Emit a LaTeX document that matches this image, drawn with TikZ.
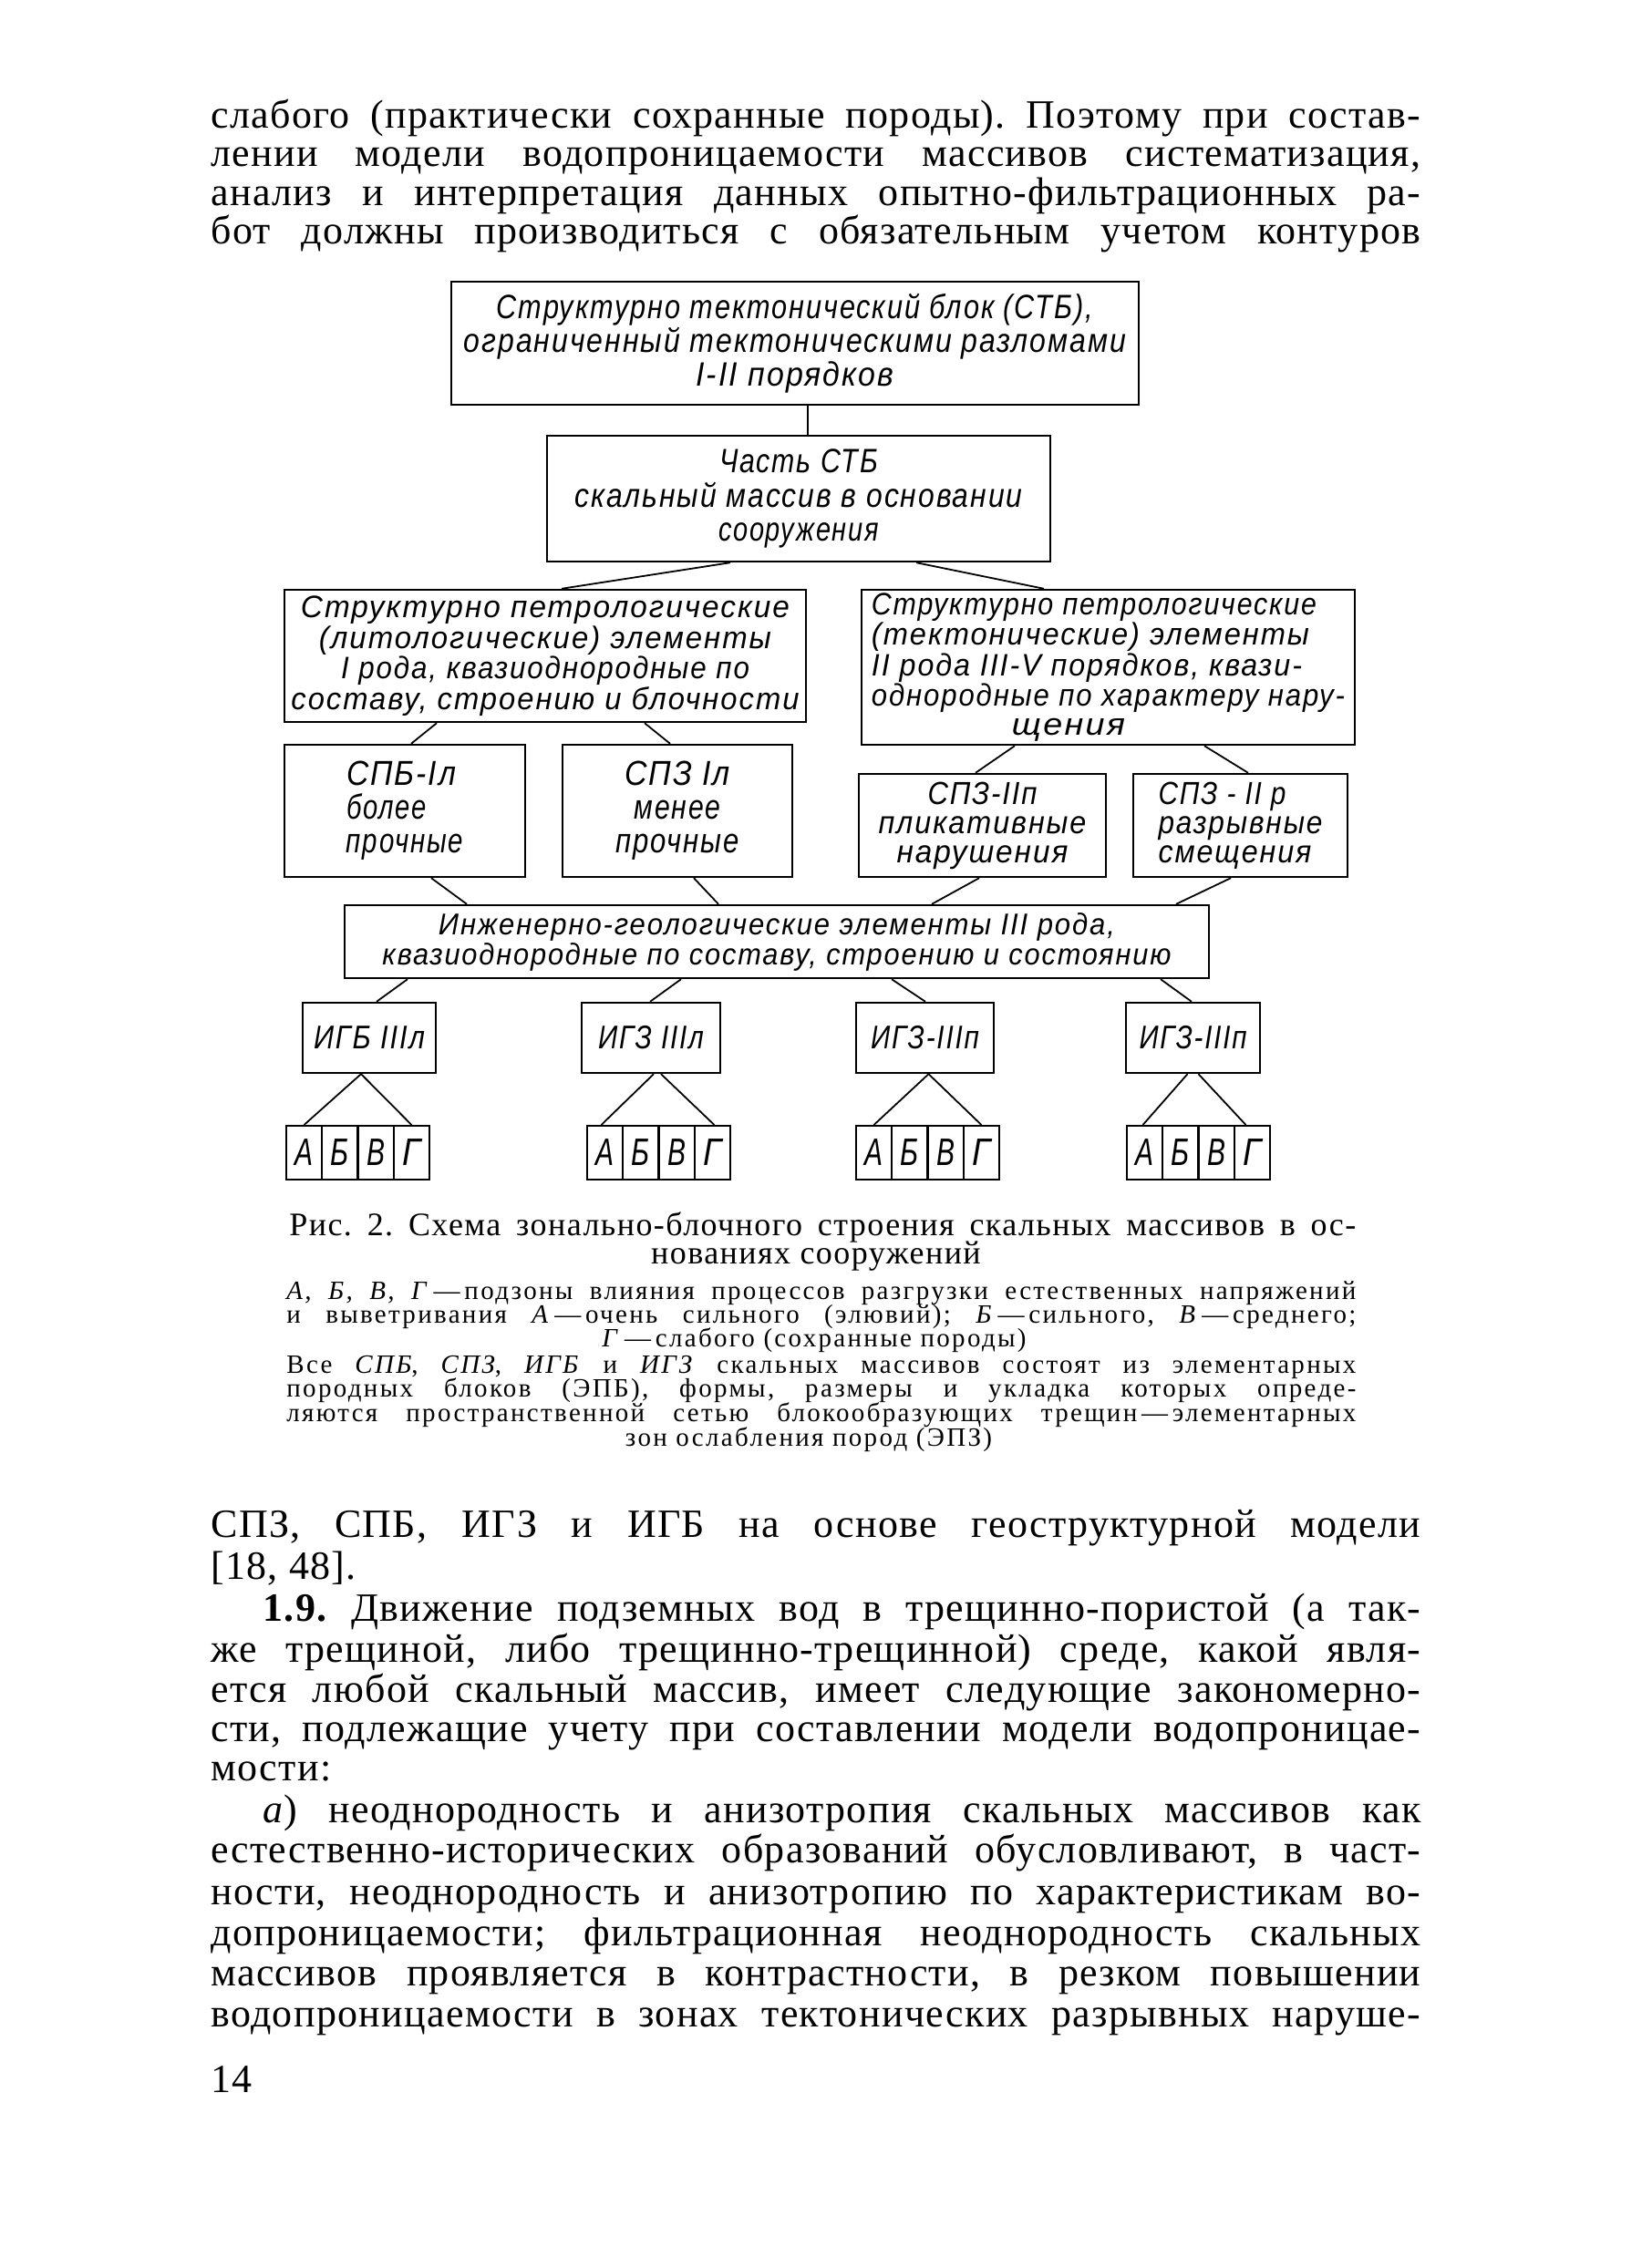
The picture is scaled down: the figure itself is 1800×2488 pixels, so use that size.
\documentclass[tikz,border=0pt]{standalone}
\usepackage{fontspec}
\usepackage{graphicx}
\setmainfont{Liberation Serif}[LetterSpace=3]
\newfontfamily\capf{Liberation Serif}[LetterSpace=4]
\newfontfamily\notef{Liberation Serif}[LetterSpace=8]
\newfontfamily\gost{Liberation Sans}[LetterSpace=6]
\frenchspacing
\newdimen\pxu \pxu=0.5pt
\newsavebox\fitbox
\newcommand\fw[2]{\sbox\fitbox{#2}\resizebox{#1\pxu}{\height}{\usebox\fitbox}}
\newcommand\jl[2]{\sbox\fitbox{#2}\ifdim\wd\fitbox>#1\pxu\relax\resizebox{#1\pxu}{\height}{\usebox\fitbox}\else\makebox[#1\pxu][s]{#2}\fi}
\newcommand\bodysize{\fontsize{22}{26}\selectfont}
\newcommand\capsz{\capf\fontsize{18}{21}\selectfont}
\newcommand\notesz{\notef\fontsize{14.5}{17}\selectfont}
\tikzset{
  box/.style={draw, line width=1.2pt, inner sep=0pt, align=center},
  conn/.style={line width=0.9pt},
  bl/.style={anchor=base west, inner sep=0pt, font=\bodysize},
  bc/.style={anchor=base, inner sep=0pt},
  gA/.style={font=\gost\itshape\fontsize{18.5}{18.5}\selectfont},
  gB/.style={font=\gost\itshape\fontsize{17}{16.75}\selectfont},
  gC/.style={font=\gost\itshape\fontsize{19}{18.5}\selectfont},
  gD/.style={font=\gost\itshape\fontsize{17.5}{16}\selectfont},
  gE/.style={font=\gost\itshape\fontsize{16.5}{16.5}\selectfont},
  gF/.style={font=\gost\itshape\fontsize{18}{16}\selectfont},
  cell/.style={draw, line width=1.1pt, inner sep=0pt, minimum width=19.6pt, minimum height=29.5pt, font=\gost\itshape\fontsize{21}{22}\selectfont}
}
\begin{document}
\begin{tikzpicture}[x=0.5pt,y=-0.5pt]
\fill[white] (0,0) rectangle (1800,2488);
\useasboundingbox (0,0) rectangle (1800,2488);

% ---- top text
\node[bl] (t1) at (231,141) {\jl{1327}{слабого (практически сохранные породы). Поэтому при состав-}};
\node[bl] (t2) at (231,183) {\jl{1327}{лении модели водопроницаемости массивов систематизация,}};
\node[bl] (t3) at (231,226) {\jl{1327}{анализ и интерпретация данных опытно-фильтрационных ра-}};
\node[bl] (t4) at (231,268) {\jl{1327}{бот должны производиться с обязательным учетом контуров}};

% ---- diagram boxes
\node[box, gA, minimum width=377pt, minimum height=67.5pt] (b1) at (872,376.5)
  {\fw{654}{Структурно тектонический блок (СТБ),}\\\fw{726}{ограниченный тектоническими разломами}\\\fw{217}{I-II порядков}};
\node[box, gA, minimum width=276pt, minimum height=69pt] (b2) at (876,547)
  {\fw{174}{Часть СТБ}\\[0.25pt]\fw{491}{скальный массив в основании}\\[0.25pt]\fw{176}{сооружения}};
\node[box, gB, minimum width=286pt, minimum height=72.5pt] (b3) at (598,719.5)
  {\fw{536}{Структурно петрологические}\\\fw{496}{(литологические) элементы}\\\fw{448}{I рода, квазиоднородные по}\\\fw{557}{составу, строению и блочности}};
\node[box, gB, align=left, minimum width=270.5pt, minimum height=85pt] (b4) at (1215.5,732)
  {\fw{488}{Структурно петрологические}\\\fw{480}{(тектонические) элементы}\\\fw{472}{II рода III-V порядков, квази-}\\\fw{519}{однородные по характеру нару-}\\[-1pt]\hspace*{77pt}\fw{124}{щения}};

\node[box, gC, align=left, minimum width=132pt, minimum height=72.5pt] (s1) at (444,889.5)
  {\fw{120}{СПБ-Iл}\\\fw{88}{более}\\\fw{128}{прочные}};
\node[box, gC, minimum width=126pt, minimum height=72.5pt] (s2) at (743,889.5)
  {\fw{116}{СПЗ Iл}\\\fw{95}{менее}\\\fw{135}{прочные}};
\node[box, gD, minimum width=135.5pt, minimum height=56.5pt] (s3) at (1077.5,905.5)
  {\fw{120}{СПЗ-IIп}\\\fw{228}{пликативные}\\\fw{188}{нарушения}};
\node[box, gD, align=left, minimum width=117.5pt, minimum height=56.5pt] (s4) at (1360.5,905.5)
  {\fw{140}{СПЗ - II р}\\\fw{180}{разрывные}\\\fw{168}{смещения}};

\node[box, gE, minimum width=474pt, minimum height=40pt] (ig) at (852,1033)
  {\fw{742}{Инженерно-геологические элементы III рода,}\\\fw{865}{квазиоднородные по составу, строению и состоянию}};

\node[box, gF, minimum width=73pt, minimum height=38.5pt] (g1) at (405,1138.5) {\fw{122}{ИГБ IIIл}};
\node[box, gF, minimum width=76pt, minimum height=38.5pt] (g2) at (714,1138.5) {\fw{116}{ИГЗ IIIл}};
\node[box, gF, minimum width=75.5pt, minimum height=38.5pt] (g3) at (1014.5,1138.5) {\fw{119}{ИГЗ-IIIп}};
\node[box, gF, minimum width=73.5pt, minimum height=38.5pt] (g4) at (1308.5,1138.5) {\fw{118}{ИГЗ-IIIп}};

\foreach \g/\s in {1/314,2/644,3/939,4/1236}{
  \foreach \i/\l in {0/А,1/Б,2/В,3/Г}{
    \node[cell] (c\g\i) at ({\s+19.6+39.25*\i},1264.5) {\fw{20}{\l}};
  }
}

% ---- connectors
\draw[conn] ([xshift=7pt]b1.south) -- ([xshift=5pt]b2.north);
\draw[conn] ([xshift=-37.5pt]b2.south) -- ([xshift=9pt]b3.north);
\draw[conn] ([xshift=64.5pt]b2.south) -- ([xshift=-35.25pt]b4.north);
\draw[conn] ([xshift=-59.5pt]b3.south) -- ([xshift=3.5pt]s1.north);
\draw[conn] ([xshift=54.5pt]b3.south) -- ([xshift=-4pt]s2.north);
\draw[conn] ([xshift=-51.25pt]b4.south) -- ([xshift=-3.75pt]s3.north);
\draw[conn] ([xshift=52.75pt]b4.south) -- ([xshift=4.25pt]s4.north);
\draw[conn] ([xshift=14.5pt]s1.south) -- ([xshift=-170pt]ig.north);
\draw[conn] ([xshift=9pt]s2.south) -- ([xshift=-32pt]ig.north);
\draw[conn] ([xshift=-1.75pt]s3.south) -- ([xshift=85pt]ig.north);
\draw[conn] ([xshift=-5.25pt]s4.south) -- ([xshift=219pt]ig.north);
\draw[conn] ([xshift=-202.5pt]ig.south) -- ([xshift=4pt]g1.north);
\draw[conn] ([xshift=-52.5pt]ig.south) -- ([xshift=-0.5pt]g2.north);
\draw[conn] ([xshift=63pt]ig.south) -- ([xshift=0.25pt]g3.north);
\draw[conn] ([xshift=210.5pt]ig.south) -- ([xshift=-0.75pt]g4.north);
\draw[conn] ([xshift=-4.5pt]g1.south) -- (c10.north);
\draw[conn] ([xshift=-4.5pt]g1.south) -- (c13.north);
\draw[conn] ([xshift=1.5pt]g2.south) -- ([xshift=-2pt]c20.north);
\draw[conn] ([xshift=5.5pt]g2.south) -- ([xshift=1pt]c23.north);
\draw[conn] ([xshift=2pt]g3.south) -- (c30.north);
\draw[conn] ([xshift=2pt]g3.south) -- (c33.north);
\draw[conn] ([xshift=-3pt]g4.south) -- ([xshift=-1pt]c40.north);
\draw[conn] ([xshift=3pt]g4.south) -- ([xshift=-3.5pt]c43.north);

% ---- caption
\node[bl, font=\capsz] (cap1) at (317,1355) {\jl{1170}{Рис. 2. Схема зонально-блочного строения скальных массивов в ос-}};
\node[bc, font=\capsz] (cap2) at (895,1386) {нованиях сооружений};
\node[bl, font=\notesz] (n1) at (314,1425) {\jl{1173}{\textit{А, Б, В, Г}\,—\,подзоны влияния процессов разгрузки естественных напряжений}};
\node[bl, font=\notesz] (n2) at (314,1451) {\jl{1173}{и выветривания \textit{А}\,—\,очень сильного (элювий); \textit{Б}\,—\,сильного, \textit{В}\,—\,среднего;}};
\node[bc, font=\notesz] (n3) at (893,1477) {\textit{Г}\,—\,слабого (сохранные породы)};
\node[bl, font=\notesz] (n4) at (314,1506) {\jl{1173}{Все \textit{СПБ}, \textit{СПЗ}, \textit{ИГБ} и \textit{ИГЗ} скальных массивов состоят из элементарных}};
\node[bl, font=\notesz] (n5) at (314,1532) {\jl{1173}{породных блоков (ЭПБ), формы, размеры и укладка которых опреде-}};
\node[bl, font=\notesz] (n6) at (314,1559) {\jl{1173}{ляются пространственной сетью блокообразующих трещин\,—\,элементарных}};
\node[bc, font=\notesz] (n7) at (887,1586) {зон ослабления пород (ЭПЗ)};

% ---- body text
\node[bl] (p1) at (231,1686) {\jl{1327}{СПЗ, СПБ, ИГЗ и ИГБ на основе геоструктурной модели}};
\node[bl] (p2) at (231,1732) {[18, 48].};
\node[bl] (p3) at (288,1778) {\jl{1270}{\textbf{1.9.} Движение подземных вод в трещинно-пористой (а так-}};
\node[bl] (p4) at (231,1823) {\jl{1327}{же трещиной, либо трещинно-трещинной) среде, какой явля-}};
\node[bl] (p5) at (231,1867) {\jl{1327}{ется любой скальный массив, имеет следующие закономерно-}};
\node[bl] (p6) at (231,1910) {\jl{1327}{сти, подлежащие учету при составлении модели водопроницае-}};
\node[bl] (p7) at (231,1953) {мости:};
\node[bl] (p8) at (288,1999) {\jl{1270}{\textit{а}) неоднородность и анизотропия скальных массивов как}};
\node[bl] (p9) at (231,2043) {\jl{1327}{естественно-исторических образований обусловливают, в част-}};
\node[bl] (p10) at (231,2089) {\jl{1327}{ности, неоднородность и анизотропию по характеристикам во-}};
\node[bl] (p11) at (231,2134) {\jl{1327}{допроницаемости; фильтрационная неоднородность скальных}};
\node[bl] (p12) at (231,2178) {\jl{1327}{массивов проявляется в контрастности, в резком повышении}};
\node[bl] (p13) at (231,2223) {\jl{1327}{водопроницаемости в зонах тектонических разрывных наруше-}};
\node[bl] (pg) at (231,2295) {14};
\end{tikzpicture}
\end{document}
